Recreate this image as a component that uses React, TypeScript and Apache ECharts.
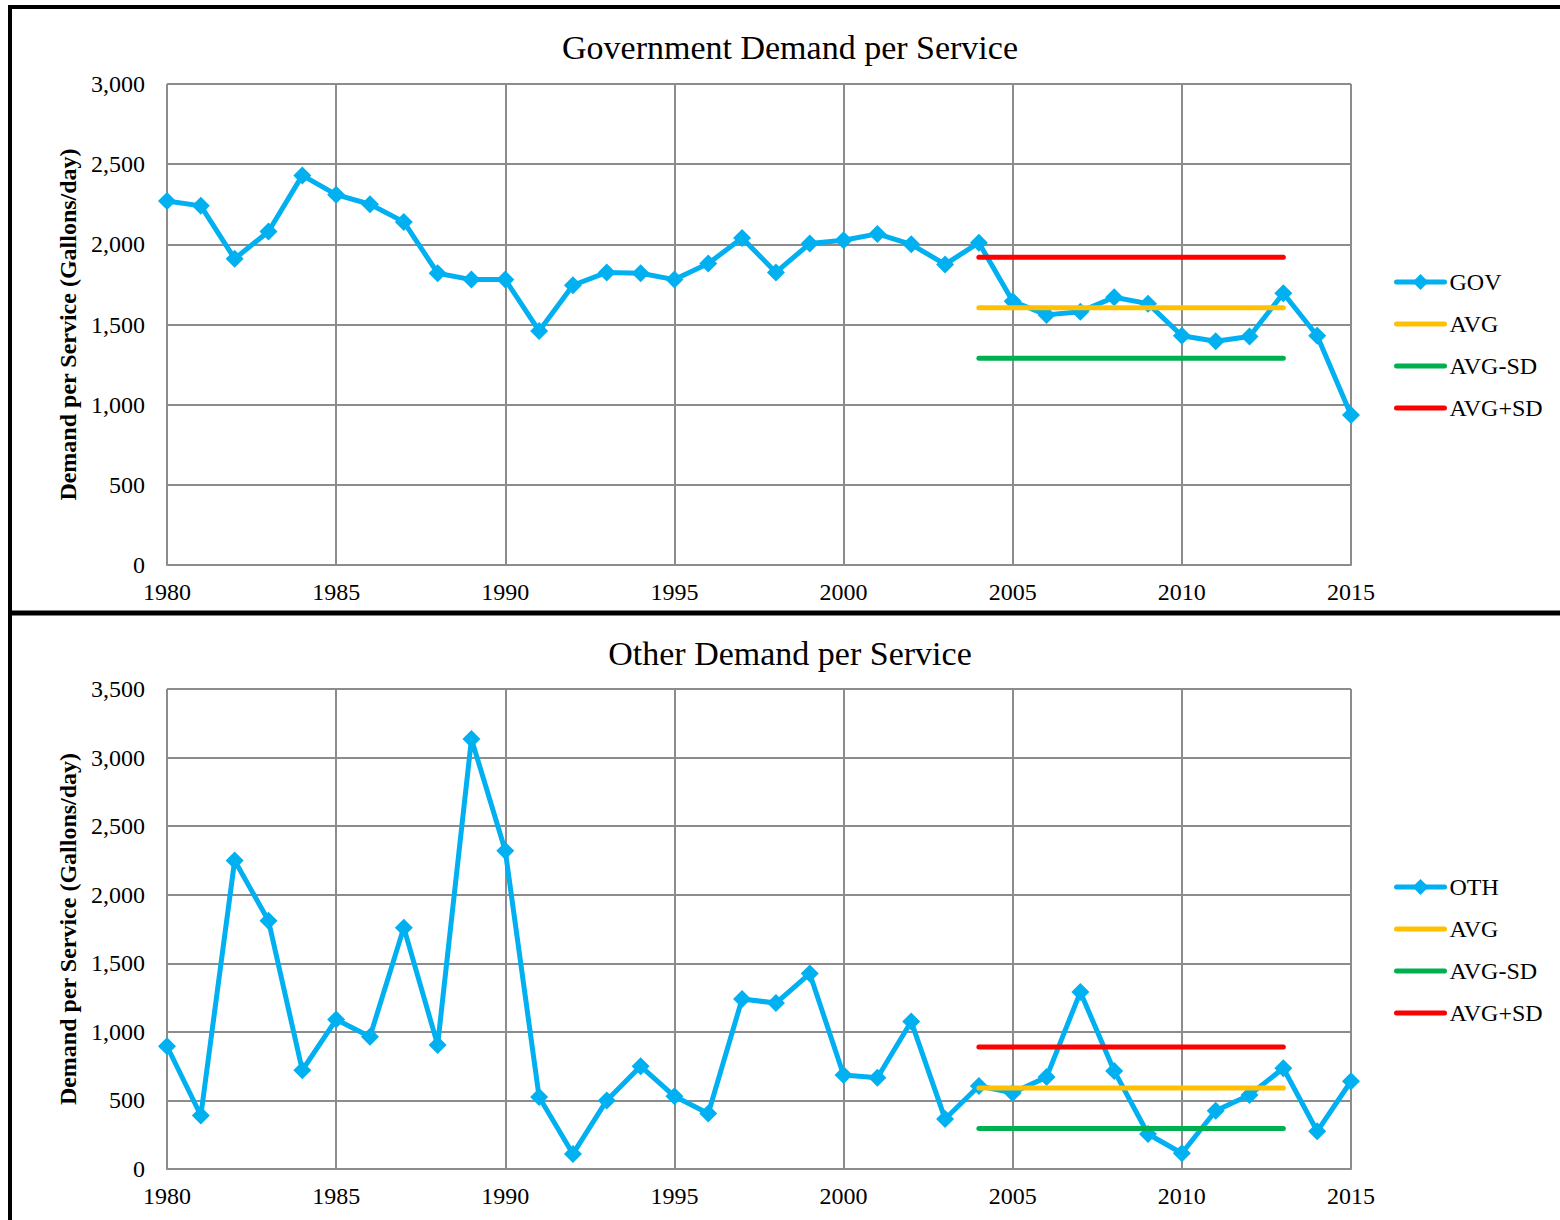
import React, { useEffect, useRef } from "react";
import * as echarts from "echarts";

const years = [
  1980, 1981, 1982, 1983, 1984, 1985, 1986, 1987, 1988, 1989, 1990, 1991,
  1992, 1993, 1994, 1995, 1996, 1997, 1998, 1999, 2000, 2001, 2002, 2003,
  2004, 2005, 2006, 2007, 2008, 2009, 2010, 2011, 2012, 2013, 2014, 2015,
];

const govValues = [
  2270, 2240, 1910, 2080, 2430, 2310, 2250, 2140, 1820, 1780, 1780, 1460,
  1745, 1825, 1820, 1780, 1880, 2040, 1825, 2005, 2025, 2065, 2000, 1875,
  2010, 1645, 1560, 1580, 1670, 1630, 1430, 1395, 1425, 1695, 1430, 935,
];

const othValues = [
  895, 390, 2250, 1810, 720, 1090, 965, 1760, 905, 3135, 2320, 525,
  110, 500, 750, 530, 405, 1240, 1210, 1425, 685, 665, 1075, 365,
  605, 555, 670, 1290, 715, 255, 115, 425, 540, 735, 275, 640,
];

const statYears = [2004, 2013];
const govStats = { avg: 1605, minus: 1290, plus: 1920 };
const othStats = { avg: 590, minus: 295, plus: 890 };

const titles = ["Government Demand per Service", "Other Demand per Service"];
const yAxisName = "Demand per Service (Gallons/day)";
const yMax = [3000, 3500];

const FONT = "'Liberation Serif', 'Times New Roman', serif";
const GRID_COLOR = "#8c8c8c";
const BLUE = "#00b0f0";
const YELLOW = "#ffc000";
const GREEN = "#00b050";
const RED = "#ff0000";

export default function App() {
  const ref = useRef<HTMLDivElement>(null);

  useEffect(() => {
    if (!ref.current) return;
    const chart = echarts.init(ref.current, null, { renderer: "svg" });

    const grids = [
      { left: 167, top: 84, width: 1184, height: 481 },
      { left: 167, top: 689, width: 1184, height: 480 },
    ];

    const xAxes = [0, 1].map((i) => ({
      type: "value",
      gridIndex: i,
      min: 1980,
      max: 2015,
      interval: 5,
      axisLine: { show: true, lineStyle: { color: GRID_COLOR, width: 2 } },
      axisTick: { show: false },
      splitLine: { show: true, lineStyle: { color: GRID_COLOR, width: 2 } },
      axisLabel: {
        formatter: (v: number) => String(v),
        fontFamily: FONT,
        fontSize: 24,
        color: "#000",
        margin: 15,
      },
    }));

    const yAxes = [0, 1].map((i) => ({
      type: "value",
      gridIndex: i,
      min: 0,
      max: yMax[i],
      interval: 500,
      name: yAxisName,
      nameLocation: "middle",
      nameGap: 86,
      nameTextStyle: {
        fontFamily: FONT,
        fontSize: 24,
        fontWeight: "bold",
        color: "#000",
      },
      axisLine: { show: false },
      axisTick: { show: false },
      splitLine: { show: true, lineStyle: { color: GRID_COLOR, width: 2 } },
      axisLabel: {
        fontFamily: FONT,
        fontSize: 24,
        color: "#000",
        margin: 22,
      },
    }));

    const mainSeries = (name: string, values: number[], idx: number) => ({
      name,
      type: "line",
      xAxisIndex: idx,
      yAxisIndex: idx,
      data: years.map((y, k) => [y, values[k]]),
      symbol: "diamond",
      symbolSize: 18,
      lineStyle: { color: BLUE, width: 5 },
      itemStyle: { color: BLUE },
      z: 3,
    });

    const statSeries = (name: string, value: number, color: string, idx: number) => ({
      name,
      type: "line",
      xAxisIndex: idx,
      yAxisIndex: idx,
      data: statYears.map((y) => [y, value]),
      symbol: "none",
      lineStyle: { color, width: 5, cap: "round" },
      itemStyle: { color },
      z: 4,
    });

    const series = [
      mainSeries("GOV", govValues, 0),
      statSeries("AVG", govStats.avg, YELLOW, 0),
      statSeries("AVG-SD", govStats.minus, GREEN, 0),
      statSeries("AVG+SD", govStats.plus, RED, 0),
      mainSeries("OTH", othValues, 1),
      statSeries("AVG", othStats.avg, YELLOW, 1),
      statSeries("AVG-SD", othStats.minus, GREEN, 1),
      statSeries("AVG+SD", othStats.plus, RED, 1),
    ];

    const hiddenSymbol = { color: "rgba(0,0,0,0)", borderColor: "rgba(0,0,0,0)", borderWidth: 0 };
    const legendData = (main: string) => [
      { name: main },
      { name: "AVG", itemStyle: hiddenSymbol },
      { name: "AVG-SD", itemStyle: hiddenSymbol },
      { name: "AVG+SD", itemStyle: hiddenSymbol },
    ];

    const legendBase = {
      orient: "vertical",
      left: 1389,
      itemWidth: 48,
      itemHeight: 20,
      itemGap: 18,
      lineStyle: { width: 5, cap: "round" },
      textStyle: { fontFamily: FONT, fontSize: 24, color: "#000" },
      selectedMode: false,
    };

    chart.setOption({
      animation: false,
      backgroundColor: "#fff",
      grid: grids,
      xAxis: xAxes,
      yAxis: yAxes,
      legend: [
        { ...legendBase, top: 265, data: legendData("GOV") },
        { ...legendBase, top: 870, data: legendData("OTH") },
      ],
      series,
      graphic: [
        {
          type: "text",
          x: 790,
          y: 47,
          style: {
            text: titles[0],
            fontFamily: FONT,
            fontSize: 34,
            fill: "#000",
            textAlign: "center",
            textVerticalAlign: "middle",
          },
        },
        {
          type: "text",
          x: 790,
          y: 653,
          style: {
            text: titles[1],
            fontFamily: FONT,
            fontSize: 34,
            fill: "#000",
            textAlign: "center",
            textVerticalAlign: "middle",
          },
        },
        {
          type: "line",
          shape: { x1: 8, y1: 7, x2: 1560, y2: 7 },
          style: { stroke: "#000", lineWidth: 4 },
        },
        {
          type: "line",
          shape: { x1: 10, y1: 5, x2: 10, y2: 1220 },
          style: { stroke: "#000", lineWidth: 4 },
        },
        {
          type: "line",
          shape: { x1: 8, y1: 613, x2: 1560, y2: 613 },
          style: { stroke: "#000", lineWidth: 5 },
        },
      ],
    });

    return () => chart.dispose();
  }, []);

  return (
    <div
      ref={ref}
      style={{ position: "absolute", left: 0, top: 0, width: 1560, height: 1220 }}
    />
  );
}
